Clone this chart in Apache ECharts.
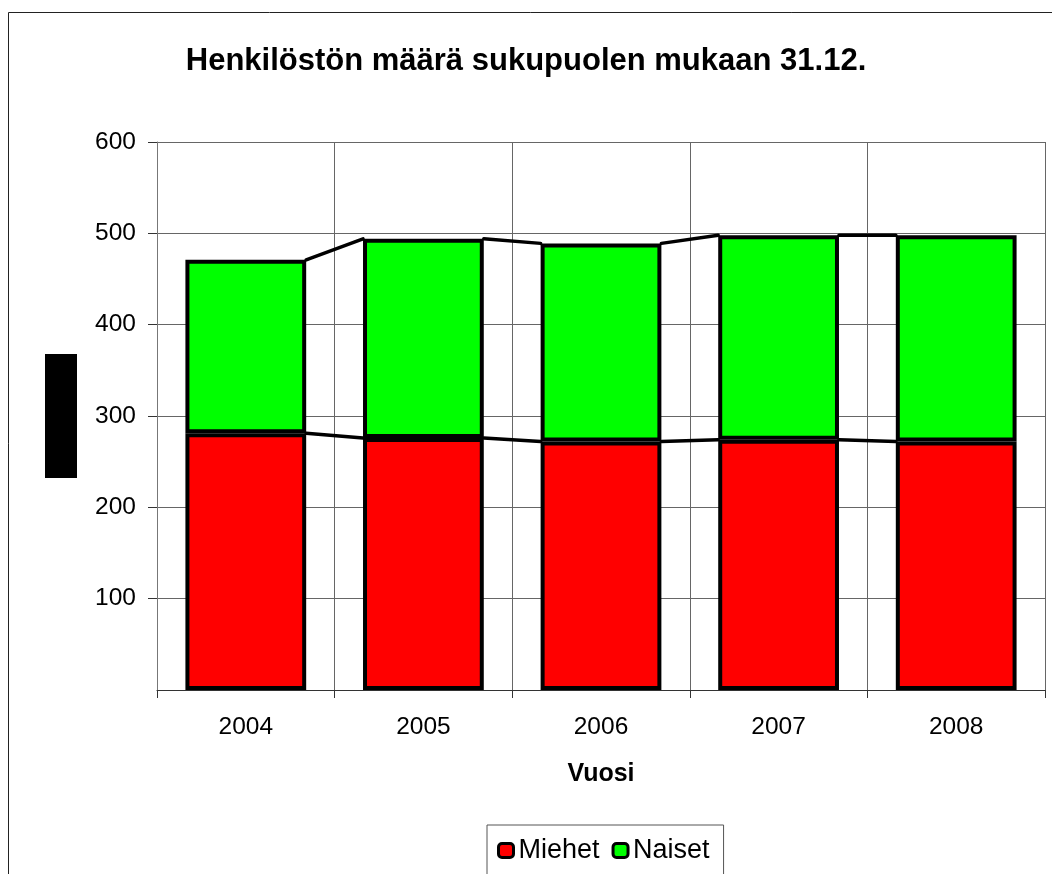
<!DOCTYPE html>
<html>
<head>
<meta charset="utf-8">
<script src="https://cdn.jsdelivr.net/npm/echarts@6/dist/echarts.min.js"></script>
<style>
html,body{margin:0;padding:0;background:#fff;}
#chart{width:1052px;height:874px;}
</style>
</head>
<body>
<div id="chart"></div>
<script>
const years = ['2004', '2005', '2006', '2007', '2008'];
const miehet = [281, 276, 272, 274, 272];
const naiset = [190, 218, 217, 224, 226];
const yTicks = [0, 100, 200, 300, 400, 500, 600];

const totals = miehet.map((m, i) => m + naiset[i]);
const BAR_RATIO = 0.68;

const chart = echarts.init(document.getElementById('chart'));
const FONT = '"Liberation Sans", Arial, sans-serif';

chart.setOption({
  animation: false,
  backgroundColor: '#fff',
  title: {
    text: 'Henkilöstön määrä sukupuolen mukaan 31.12.',
    left: 'center',
    top: 41,
    textStyle: { fontFamily: FONT, fontWeight: 'bold', fontSize: 31, color: '#000' }
  },
  legend: {
    data: ['Miehet', 'Naiset'],
    left: 487,
    top: 825,
    orient: 'horizontal',
    padding: [12, 14, 14, 10],
    itemGap: 12,
    itemWidth: 15,
    itemHeight: 14,
    borderColor: '#555',
    borderWidth: 1,
    icon: 'roundRect',
    itemStyle: { borderColor: '#000', borderWidth: 3 },
    textStyle: { fontFamily: FONT, fontSize: 27, color: '#000' }
  },
  grid: { left: 157, right: 7, top: 142, bottom: 184, containLabel: false },
  xAxis: {
    type: 'category',
    data: years,
    name: 'Vuosi',
    nameLocation: 'middle',
    nameGap: 72,
    nameTextStyle: { fontFamily: FONT, fontWeight: 'bold', fontSize: 25, color: '#000' },
    axisLine: { show: true, lineStyle: { color: '#333', width: 1 } },
    axisTick: { show: true, length: 8, interval: 0, lineStyle: { color: '#333' } },
    axisLabel: { margin: 25, fontFamily: FONT, fontSize: 24.5, color: '#000', interval: 0 },
    splitLine: { show: true, interval: 0, lineStyle: { color: '#666', width: 1 } }
  },
  yAxis: {
    type: 'value',
    min: yTicks[0],
    max: yTicks[yTicks.length - 1],
    interval: 100,
    axisLine: { show: true, lineStyle: { color: '#777', width: 1 } },
    axisTick: { show: true, length: 9, lineStyle: { color: '#333' } },
    axisLabel: { margin: 21, fontFamily: FONT, fontSize: 24.5, color: '#000', showMinLabel: false },
    splitLine: { show: true, lineStyle: { color: '#666', width: 1 } }
  },
  graphic: [
    { type: 'rect', shape: { x: 8.5, y: 12.5, width: 1100, height: 900 }, style: { fill: 'none', stroke: '#222', lineWidth: 1 }, z: -10 },
    { type: 'rect', shape: { x: 45, y: 354, width: 32, height: 124 }, style: { fill: '#000' } }
  ],
  series: [
    {
      name: 'Miehet', type: 'bar', stack: 'total', data: miehet,
      barWidth: (BAR_RATIO * 100) + '%',
      itemStyle: { color: '#FF0000', borderColor: '#000', borderWidth: 4 }
    },
    {
      name: 'Naiset', type: 'bar', stack: 'total', data: naiset,
      barWidth: (BAR_RATIO * 100) + '%',
      itemStyle: { color: '#00FF00', borderColor: '#000', borderWidth: 4 }
    },
    {
      type: 'custom',
      name: 'serieslines',
      z: 10,
      silent: true,
      data: years.slice(0, years.length - 1).map((y, i) => [i, miehet[i], totals[i], miehet[i + 1], totals[i + 1]]),
      encode: { x: 0, y: [1, 2] },
      renderItem: function (params, api) {
        const i = api.value(0);
        const half = api.size([1, 0])[0] * BAR_RATIO / 2;
        const a1 = api.coord([i, api.value(1)]);
        const b1 = api.coord([i + 1, api.value(3)]);
        const a2 = api.coord([i, api.value(2)]);
        const b2 = api.coord([i + 1, api.value(4)]);
        const st = { stroke: '#000', lineWidth: 3.5, fill: null, lineCap: 'round' };
        return {
          type: 'group',
          children: [
            { type: 'line', shape: { x1: a1[0] + half, y1: a1[1], x2: b1[0] - half, y2: b1[1] }, style: st },
            { type: 'line', shape: { x1: a2[0] + half, y1: a2[1], x2: b2[0] - half, y2: b2[1] }, style: st }
          ]
        };
      }
    }
  ]
});
</script>
</body>
</html>
